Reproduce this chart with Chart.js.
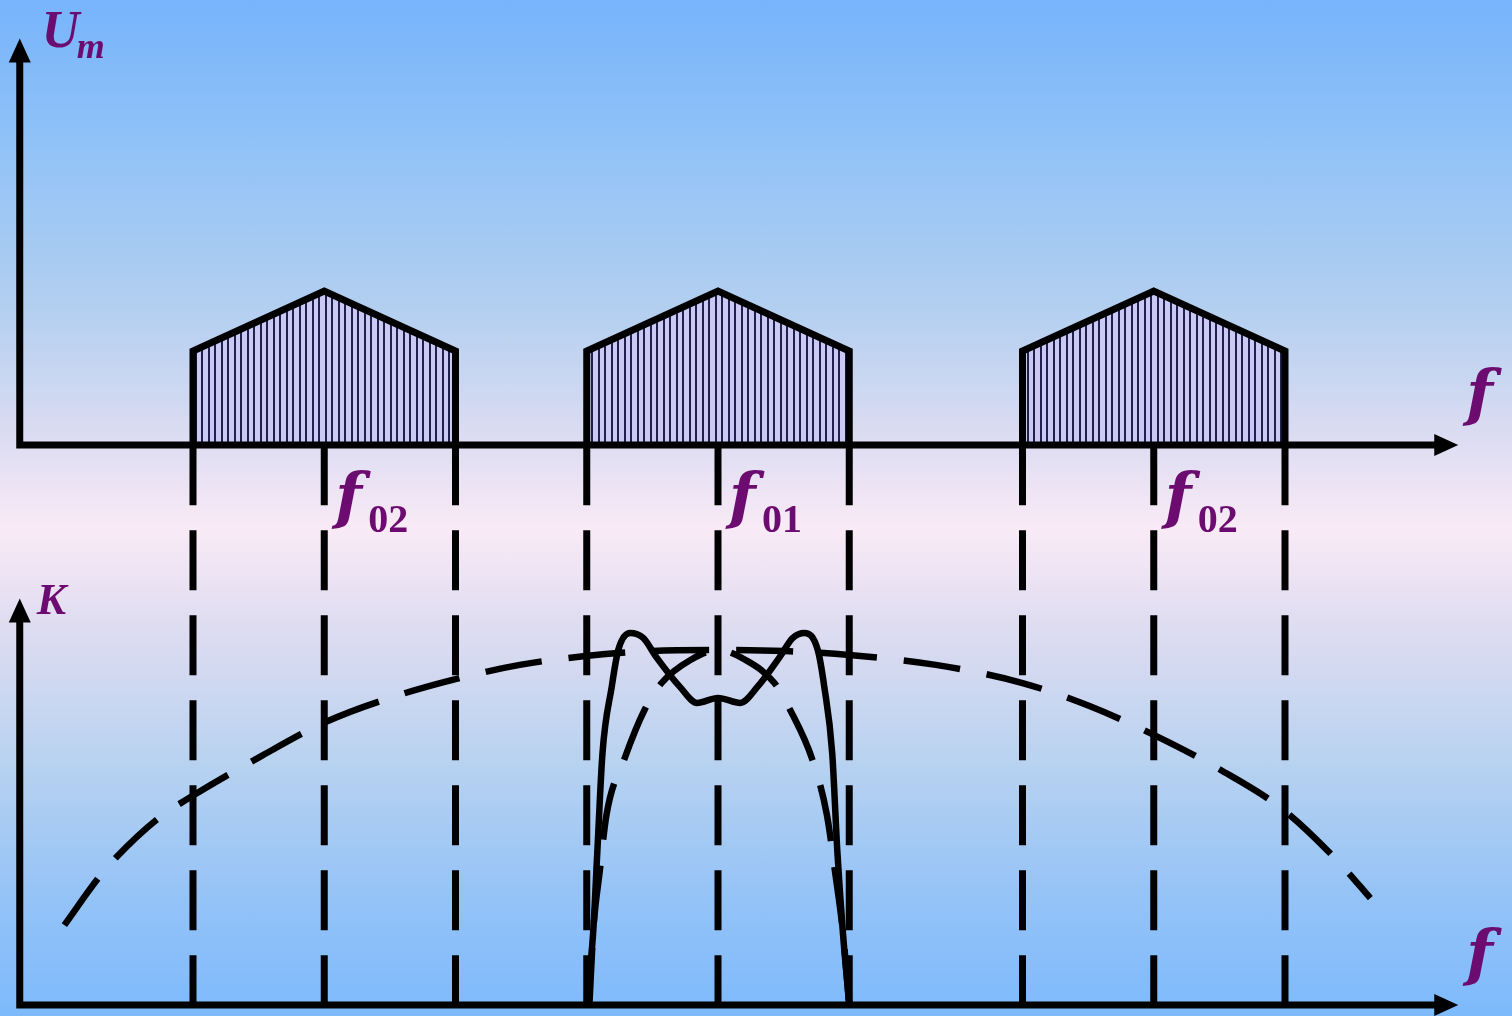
<!DOCTYPE html>
<html>
<head>
<meta charset="utf-8">
<title>Spectrum and filter response</title>
<script src="https://cdn.jsdelivr.net/npm/chart.js@4.4.1/dist/chart.umd.min.js"></script>
<style>
  html, body { margin: 0; padding: 0; overflow: hidden; }
  #spectrum {
    display: block;
    background: linear-gradient(to bottom,
      #77b4fb 0%, #8cc0f8 12%, #b2cff0 30%, #dcdcf2 43%, #f9eaf6 52%,
      #dedcf1 62%, #b8d2f0 75%, #95c3f7 88%, #7dbafc 100%);
  }
</style>
</head>
<body>
<canvas id="spectrum" width="1512" height="1016"></canvas>
<script>
// -------- Data --------
// frequency in units of half the pass band, f01 at 0
const bandCenters = [-3, 0, 3.32];
const bandLabels = ['02', '01', '02'];
const bandHalfWidth = 1;
// spectrum envelope of one band: edges, shoulders, peak
const envelopeX = [-1, -1, 0, 1, 1];
const envelopeU = [0, 0.61, 1, 0.61, 0];

// dashed markers under the bands
const markerX = [-4, -3, -2, -1, 0, 1, 2.32, 3.32, 4.32];

// wide-band amplifier response
const wideX = [-4.98, -4.72, -4.59, -4.27, -3.99, -3.49, -2.99, -2.5, -2.0, -1.51, -1.01, -0.52, 0,
  0.51, 1.0, 1.66, 2.32, 2.83, 3.32, 3.83, 4.31, 4.72, 4.97];
const wideK = [0.225, 0.358, 0.414, 0.524, 0.592, 0.699, 0.797, 0.865, 0.918, 0.958, 0.983, 0.997, 1,
  0.997, 0.986, 0.958, 0.907, 0.842, 0.761, 0.662, 0.549, 0.406, 0.301];

// single tuned circuit
const narrowX = [-0.98, -0.95, -0.9, -0.85, -0.71, -0.56, -0.43, -0.21, 0,
  0.21, 0.43, 0.55, 0.72, 0.83, 0.89, 0.95, 1.0];
const narrowK = [0, 0.211, 0.38, 0.535, 0.696, 0.831, 0.907, 0.972, 1,
  0.972, 0.907, 0.831, 0.69, 0.535, 0.38, 0.211, 0];

// coupled circuits (band-pass filter)
const filterX = [-1.0, -0.95, -0.92, -0.88, -0.81, -0.76, -0.67, -0.57, -0.47, -0.29, -0.16, 0,
  0.17, 0.3, 0.47, 0.57, 0.66, 0.76, 0.81, 0.87, 0.91, 0.95, 1.0];
const filterK = [0, 0.211, 0.428, 0.71, 0.896, 1.0, 1.048, 1.034, 0.98, 0.896, 0.851, 0.865,
  0.851, 0.896, 0.98, 1.034, 1.048, 1.0, 0.896, 0.71, 0.428, 0.211, 0];

// axis extents
const axisX0 = -5.32, axisX1 = 5.64;
const axisUTop = 2.64, axisKTop = 1.145;
const markerTopK = 1.577;

// -------- Styles --------
const INK = '#000';
const LABEL = '#6c0c70';
const SERIF = '"Liberation Serif", serif';
const F_FONT = 'italic bold 62px "DejaVu Serif", serif';

function hatchPattern() {
  const c = document.createElement('canvas');
  c.width = 13; c.height = 8;
  const g = c.getContext('2d');
  g.fillStyle = '#c9c9f3';
  g.fillRect(0, 0, 13, 8);
  g.fillStyle = '#20204c';
  g.fillRect(0, 0, 2, 8);
  g.fillRect(6, 0, 2, 8);
  return g.createPattern(c, 'repeat');
}

const xy = (xs, ys) => xs.map((x, i) => ({ x: x, y: ys[i] }));

// -------- Datasets --------
const datasets = [];
const hatch = hatchPattern();

bandCenters.forEach(c => {
  datasets.push({
    data: xy(envelopeX.map(x => c + x * bandHalfWidth), envelopeU),
    yAxisID: 'yU',
    showLine: true,
    borderColor: INK,
    borderWidth: 7,
    borderJoinStyle: 'miter',
    backgroundColor: hatch,
    fill: 'origin',
    tension: 0
  });
});

markerX.forEach(x => {
  datasets.push({
    data: [{ x: x, y: markerTopK }, { x: x, y: 0 }],
    yAxisID: 'yK',
    showLine: true,
    borderColor: INK,
    borderWidth: 7,
    borderDash: [60, 25],
    fill: false
  });
});

const curveStyle = {
  yAxisID: 'yK',
  showLine: true,
  borderColor: INK,
  borderWidth: 6.5,
  fill: false,
  cubicInterpolationMode: 'monotone'
};
datasets.push(Object.assign({ data: xy(wideX, wideK), borderDash: [57, 27] }, curveStyle));
datasets.push(Object.assign({ data: xy(narrowX, narrowK), borderDash: [57, 26] }, curveStyle));
datasets.push(Object.assign({ data: xy(filterX, filterK) }, curveStyle));

// -------- Axes and labels --------
function arrowUp(ctx, x, y) {
  ctx.beginPath();
  ctx.moveTo(x, y);
  ctx.lineTo(x - 11, y + 24);
  ctx.lineTo(x + 11, y + 24);
  ctx.closePath();
  ctx.fill();
}

function arrowRight(ctx, x, y) {
  ctx.beginPath();
  ctx.moveTo(x, y);
  ctx.lineTo(x - 24, y - 11);
  ctx.lineTo(x - 24, y + 11);
  ctx.closePath();
  ctx.fill();
}

const axesPlugin = {
  id: 'axesPlugin',
  afterDatasetsDraw(chart) {
    const ctx = chart.ctx;
    const sx = chart.scales.x, su = chart.scales.yU, sk = chart.scales.yK;
    const left = sx.getPixelForValue(axisX0);
    const right = sx.getPixelForValue(axisX1);
    const u0 = su.getPixelForValue(0), uTop = su.getPixelForValue(axisUTop);
    const k0 = sk.getPixelForValue(0), kTop = sk.getPixelForValue(axisKTop);

    ctx.save();
    ctx.strokeStyle = INK;
    ctx.fillStyle = INK;
    ctx.lineWidth = 7;
    ctx.lineCap = 'butt';
    ctx.beginPath();
    ctx.moveTo(left, uTop + 20); ctx.lineTo(left, u0);
    ctx.moveTo(left - 3.5, u0); ctx.lineTo(right - 20, u0);
    ctx.moveTo(left, kTop + 20); ctx.lineTo(left, k0);
    ctx.moveTo(left - 3.5, k0); ctx.lineTo(right - 20, k0);
    ctx.stroke();
    arrowUp(ctx, left, uTop);
    arrowUp(ctx, left, kTop);
    arrowRight(ctx, right, u0);
    arrowRight(ctx, right, k0);

    ctx.fillStyle = LABEL;
    ctx.textBaseline = 'alphabetic';
    ctx.font = 'italic bold 52px ' + SERIF;
    ctx.fillText('U', left + 22, uTop + 9);
    ctx.font = 'italic bold 36px ' + SERIF;
    ctx.fillText('m', left + 57, uTop + 20);
    ctx.font = 'italic bold 44px ' + SERIF;
    ctx.fillText('K', left + 17, kTop + 15);

    ctx.font = F_FONT;
    ctx.fillText('f', right + 8, u0 - 31);
    ctx.fillText('f', right + 8, k0 - 31);

    bandCenters.forEach((c, i) => {
      const px = sx.getPixelForValue(c);
      ctx.font = F_FONT;
      ctx.fillText('f', px + 11, u0 + 72);
      ctx.font = 'bold 40px ' + SERIF;
      ctx.fillText(bandLabels[i], px + 44, u0 + 87);
    });
    ctx.restore();
  }
};

// -------- Chart --------
const ctx = document.getElementById('spectrum').getContext('2d');
const chart = new Chart(ctx, {
  type: 'scatter',
  data: { datasets: datasets },
  options: {
    responsive: false,
    animation: false,
    devicePixelRatio: 1,
    layout: { padding: 0 },
    elements: { point: { radius: 0, hoverRadius: 0 } },
    plugins: {
      legend: { display: false },
      tooltip: { enabled: false }
    },
    events: [],
    scales: {
      x: { type: 'linear', display: false, min: -5.4705, max: 6.0495 },
      yU: { type: 'linear', display: false, position: 'left', min: -3.7078, max: 2.8896 },
      yK: { type: 'linear', display: false, position: 'left', min: -0.031, max: 2.831 }
    }
  },
  plugins: [axesPlugin]
});
</script>
</body>
</html>
